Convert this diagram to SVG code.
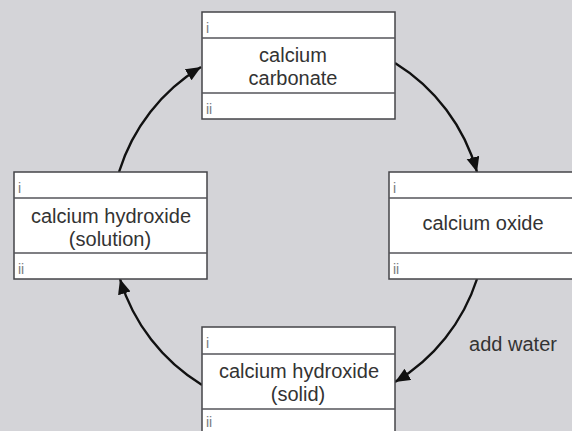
<svg xmlns="http://www.w3.org/2000/svg" width="572" height="431" viewBox="0 0 572 431">
  <style>
    .box { fill: #ffffff; stroke: #444448; stroke-width: 1.5; }
    .div { stroke: #55555a; stroke-width: 1.5; }
    .lbl { font-family: "Liberation Sans", Arial, sans-serif; font-size: 20px; fill: #333333; text-anchor: middle; }
    .idx { font-family: "Liberation Sans", Arial, sans-serif; font-size: 14px; fill: #7a7a7e; }
    .arc { fill: none; stroke: #111111; stroke-width: 2.4; marker-end: url(#head); }
  </style>
  <defs>
    <marker id="head" markerUnits="userSpaceOnUse" markerWidth="16" markerHeight="14" refX="15" refY="6.5" orient="auto">
      <path d="M0,0 L15,6.5 L0,13 Z" fill="#111111"/>
    </marker>
  </defs>

  <rect x="0" y="0" width="572" height="431" fill="#d4d4d8"/>

  <!-- cycle arrows -->
  <g id="connectors">
    <path class="arc" d="M119,172 A187,187 0 0 1 201,67"/>
    <path class="arc" d="M395,63 A187,187 0 0 1 477,172"/>
    <path class="arc" d="M477,279 A187,187 0 0 1 395,382"/>
    <path class="arc" d="M202,385 A187,187 0 0 1 120,279"/>
    <text class="lbl" x="513" y="351">add water</text>
  </g>

  <g id="carbonate">
    <rect class="box" x="202" y="12" width="193" height="107"/>
    <line class="div" x1="202" y1="38" x2="395" y2="38"/>
    <line class="div" x1="202" y1="93" x2="395" y2="93"/>
    <text class="idx" x="206" y="33">i</text>
    <text class="lbl" x="293" y="62">calcium</text>
    <text class="lbl" x="293" y="85">carbonate</text>
    <text class="idx" x="206" y="114">ii</text>
  </g>

  <g id="oxide">
    <rect class="box" x="389" y="172" width="200" height="107"/>
    <line class="div" x1="389" y1="198" x2="589" y2="198"/>
    <line class="div" x1="389" y1="253" x2="589" y2="253"/>
    <text class="idx" x="393" y="193">i</text>
    <text class="lbl" x="483" y="230">calcium oxide</text>
    <text class="idx" x="393" y="274">ii</text>
  </g>

  <g id="hydroxide-solid">
    <rect class="box" x="202" y="327" width="193" height="120"/>
    <line class="div" x1="202" y1="354" x2="395" y2="354"/>
    <line class="div" x1="202" y1="409" x2="395" y2="409"/>
    <text class="idx" x="206" y="348">i</text>
    <text class="lbl" x="299" y="378">calcium hydroxide</text>
    <text class="lbl" x="298" y="401">(solid)</text>
    <text class="idx" x="206" y="427">ii</text>
  </g>

  <g id="hydroxide-solution">
    <rect class="box" x="14" y="172" width="193" height="107"/>
    <line class="div" x1="14" y1="198" x2="207" y2="198"/>
    <line class="div" x1="14" y1="253" x2="207" y2="253"/>
    <text class="idx" x="18" y="193">i</text>
    <text class="lbl" x="111" y="223">calcium hydroxide</text>
    <text class="lbl" x="110" y="246">(solution)</text>
    <text class="idx" x="18" y="274">ii</text>
  </g>
</svg>
